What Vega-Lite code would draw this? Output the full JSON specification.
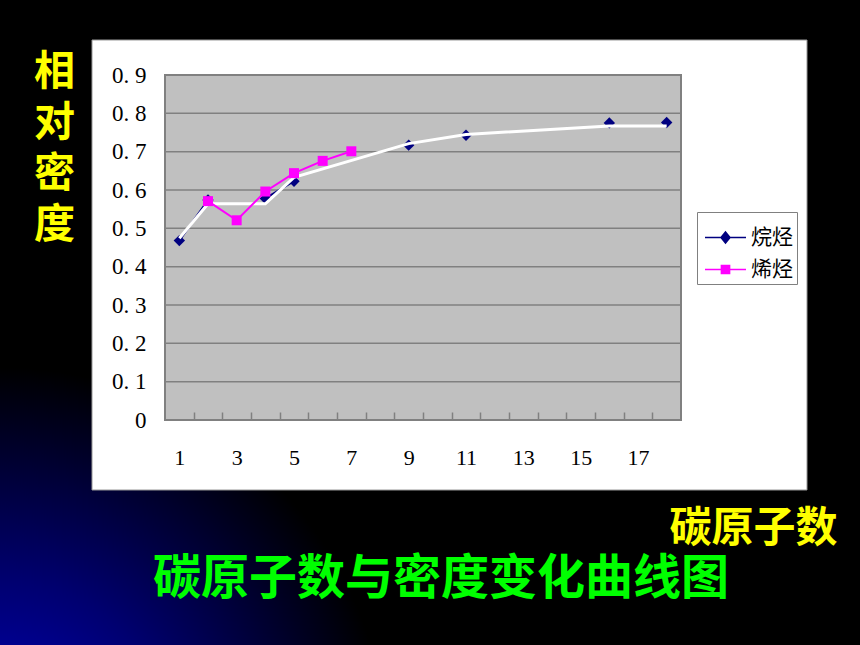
{
  "$schema": "https://vega.github.io/schema/vega-lite/v6.json",
  "width": 516,
  "height": 345,
  "autosize": {"type": "none"},
  "padding": {"left": 165, "top": 75, "right": 179, "bottom": 225},
  "background": "#000000",
  "config": {"view": {"stroke": null, "fill": null}},
  "title": {
    "text": "碳原子数与密度变化曲线图",
    "orient": "top",
    "anchor": "middle",
    "frame": "group",
    "offset": 0,
    "dx": 18,
    "dy": 606,
    "baseline": "top",
    "font": "Noto Sans CJK SC",
    "fontSize": 48,
    "fontWeight": "bold",
    "color": "#00FF00"
  },
  "datasets": {
    "density": [
      {"n": 1, "series": "烷烃", "d": 0.468},
      {"n": 2, "series": "烷烃", "d": 0.574},
      {"n": 3, "series": "烷烃", "d": null},
      {"n": 4, "series": "烷烃", "d": 0.578},
      {"n": 5, "series": "烷烃", "d": 0.623},
      {"n": 6, "series": "烷烃", "d": null},
      {"n": 7, "series": "烷烃", "d": null},
      {"n": 8, "series": "烷烃", "d": null},
      {"n": 9, "series": "烷烃", "d": 0.717},
      {"n": 10, "series": "烷烃", "d": null},
      {"n": 11, "series": "烷烃", "d": 0.743},
      {"n": 12, "series": "烷烃", "d": null},
      {"n": 13, "series": "烷烃", "d": null},
      {"n": 14, "series": "烷烃", "d": null},
      {"n": 15, "series": "烷烃", "d": null},
      {"n": 16, "series": "烷烃", "d": 0.775},
      {"n": 17, "series": "烷烃", "d": null},
      {"n": 18, "series": "烷烃", "d": 0.776},
      {"n": 2, "series": "烯烃", "d": 0.571},
      {"n": 3, "series": "烯烃", "d": 0.521},
      {"n": 4, "series": "烯烃", "d": 0.596},
      {"n": 5, "series": "烯烃", "d": 0.644},
      {"n": 6, "series": "烯烃", "d": 0.676},
      {"n": 7, "series": "烯烃", "d": 0.701}
    ],
    "trend": [
      {"n": 1, "d": 0.474},
      {"n": 2, "d": 0.564},
      {"n": 4, "d": 0.564},
      {"n": 5, "d": 0.633},
      {"n": 9, "d": 0.721},
      {"n": 11, "d": 0.745},
      {"n": 16, "d": 0.767},
      {"n": 18, "d": 0.767}
    ],
    "grid": [
      {"g": 0.1}, {"g": 0.2}, {"g": 0.3}, {"g": 0.4}, {"g": 0.5},
      {"g": 0.6}, {"g": 0.7}, {"g": 0.8}, {"g": 0.9}
    ]
  },
  "layer": [
    {
      "data": {"name": "grid"},
      "mark": {
        "type": "rect",
        "clip": false,
        "fill": {
          "gradient": "radial",
          "x1": 0, "y1": 1, "r1": 0,
          "x2": 0, "y2": 1, "r2": 0.45,
          "stops": [
            {"offset": 0, "color": "#0000c0"},
            {"offset": 0.45, "color": "#000070"},
            {"offset": 1, "color": "#000000"}
          ]
        }
      },
      "transform": [{"filter": "datum.g == 0.1"}],
      "encoding": {
        "x": {
          "datum": -5.3,
          "type": "quantitative",
          "scale": {"domain": [0.5, 18.5], "nice": false, "zero": false},
          "axis": {
            "title": "碳原子数",
            "titleColor": "#FFFF00",
            "titleFont": "Noto Sans CJK SC",
            "titleFontSize": 42,
            "titleFontWeight": "bold",
            "titleX": 588,
            "titleY": 108,
            "titleAlign": "center",
            "titleBaseline": "middle",
            "values": [1.5, 2.5, 3.5, 4.5, 5.5, 6.5, 7.5, 8.5, 9.5, 10.5, 11.5, 12.5, 13.5, 14.5, 15.5, 16.5, 17.5],
            "tickCount": 40,
            "labelExpr": "((datum.value - 0.5) % 2 == 1) ? format(datum.value - 0.5, 'd') : ''",
            "labelOffset": -14.33,
            "labelFont": "Liberation Serif",
            "labelFontSize": 22,
            "labelColor": "#000000",
            "labelPadding": 45,
            "labelBaseline": "middle",
            "labelAngle": 0,
            "labelFlush": false,
            "labelOverlap": false,
            "tickSize": -8,
            "tickColor": "#808080",
            "tickWidth": 1.5,
            "domain": false,
            "grid": false,
            "zindex": 1
          }
        },
        "x2": {"datum": 24.8},
        "y": {
          "datum": 1.1,
          "type": "quantitative",
          "scale": {"domain": [0, 0.9], "nice": false, "zero": false},
          "axis": {
            "title": ["相", "对", "密", "度"],
            "titleAngle": 0,
            "titleX": -111,
            "titleY": -23,
            "titleAlign": "center",
            "titleBaseline": "top",
            "titleLineHeight": 51,
            "titleColor": "#FFFF00",
            "titleFont": "Noto Sans CJK SC",
            "titleFontSize": 41,
            "titleFontWeight": "bold",
            "values": [0, 0.1, 0.2, 0.3, 0.4, 0.5, 0.6, 0.7, 0.8, 0.9],
            "tickCount": 40,
            "labelExpr": "datum.value == 0 ? '0' : replace(format(datum.value, '.1f'), '.', '. ')",
            "labelFont": "Liberation Serif",
            "labelFontSize": 23,
            "labelColor": "#000000",
            "labelPadding": 19,
            "labelOverlap": false,
            "ticks": false,
            "domain": false,
            "grid": false,
            "zindex": 1
          }
        },
        "y2": {"datum": -0.6}
      }
    },
    {
      "data": {"name": "grid"},
      "transform": [{"filter": "datum.g == 0.1"}],
      "mark": {"type": "rect", "clip": false, "fill": "#FFFFFF", "stroke": "#9a9a9a", "strokeWidth": 1},
      "encoding": {
        "x": {"datum": -2.046, "type": "quantitative"},
        "x2": {"datum": 22.895},
        "y": {"datum": 0.9913, "type": "quantitative"},
        "y2": {"datum": -0.1826}
      }
    },
    {
      "data": {"name": "grid"},
      "transform": [{"filter": "datum.g == 0.1"}],
      "mark": {"type": "rect", "clip": false, "fill": "#C0C0C0", "stroke": "#808080", "strokeWidth": 2},
      "encoding": {
        "x": {"datum": 0.5, "type": "quantitative"},
        "x2": {"datum": 18.5},
        "y": {"datum": 0, "type": "quantitative"},
        "y2": {"datum": 0.9}
      }
    },
    {
      "data": {"name": "grid"},
      "mark": {"type": "rule", "color": "#808080", "strokeWidth": 1.5},
      "encoding": {
        "x": {"datum": 0.5, "type": "quantitative"},
        "x2": {"datum": 18.5},
        "y": {"field": "g", "type": "quantitative"}
      }
    },
    {
      "data": {"name": "density"},
      "transform": [{"filter": "datum.series == '烷烃'"}],
      "mark": {"type": "line", "strokeWidth": 2, "invalid": "break-paths-show-domains"},
      "encoding": {
        "x": {"field": "n", "type": "quantitative"},
        "y": {"field": "d", "type": "quantitative"},
        "color": {"field": "series", "type": "nominal", "scale": {"domain": ["烷烃", "烯烃"], "range": ["#000080", "#FF00FF"]}}
      }
    },
    {
      "data": {"name": "density"},
      "transform": [{"filter": "datum.series == '烷烃' && datum.d != null"}],
      "mark": {"type": "point", "filled": true, "opacity": 1, "size": 130, "shape": "diamond"},
      "encoding": {
        "x": {"field": "n", "type": "quantitative"},
        "y": {"field": "d", "type": "quantitative"},
        "color": {"field": "series", "type": "nominal"}
      }
    },
    {
      "data": {"name": "trend"},
      "mark": {"type": "line", "color": "#FFFFFF", "strokeWidth": 3},
      "encoding": {
        "x": {"field": "n", "type": "quantitative"},
        "y": {"field": "d", "type": "quantitative"}
      }
    },
    {
      "data": {"name": "density"},
      "transform": [{"filter": "datum.series == '烯烃'"}],
      "mark": {"type": "line", "strokeWidth": 2},
      "encoding": {
        "x": {"field": "n", "type": "quantitative"},
        "y": {"field": "d", "type": "quantitative"},
        "color": {"field": "series", "type": "nominal"}
      }
    },
    {
      "data": {"name": "density"},
      "transform": [{"filter": "datum.series == '烯烃'"}],
      "mark": {"type": "point", "filled": true, "opacity": 1, "size": 100, "shape": "square"},
      "encoding": {
        "x": {"field": "n", "type": "quantitative"},
        "y": {"field": "d", "type": "quantitative"},
        "color": {
          "field": "series",
          "type": "nominal",
          "legend": {
            "orient": "none",
            "legendX": 532,
            "legendY": 137,
            "title": null,
            "fillColor": "#FFFFFF",
            "strokeColor": "#808080",
            "padding": 4,
            "symbolOffset": 3,
            "rowPadding": 0,
            "symbolSize": 1681,
            "symbolStrokeWidth": 1.5,
            "symbolOpacity": 1,
            "labelFont": "Noto Sans CJK SC",
            "labelFontSize": 21,
            "labelColor": "#000000",
            "labelOffset": 4,
            "encode": {
              "symbols": {
                "update": {
                  "shape": {"signal": "datum.value == '烷烃' ? 'M-1,0H1M0,-0.27L0.22,0L0,0.27L-0.22,0Z' : 'M-1,0H1M-0.2,-0.2H0.2V0.2H-0.2Z'"},
                  "fill": {"signal": "datum.value == '烷烃' ? '#000080' : '#FF00FF'"},
                  "stroke": {"signal": "datum.value == '烷烃' ? '#000080' : '#FF00FF'"}
                }
              }
            }
          }
        }
      }
    }
  ]
}
